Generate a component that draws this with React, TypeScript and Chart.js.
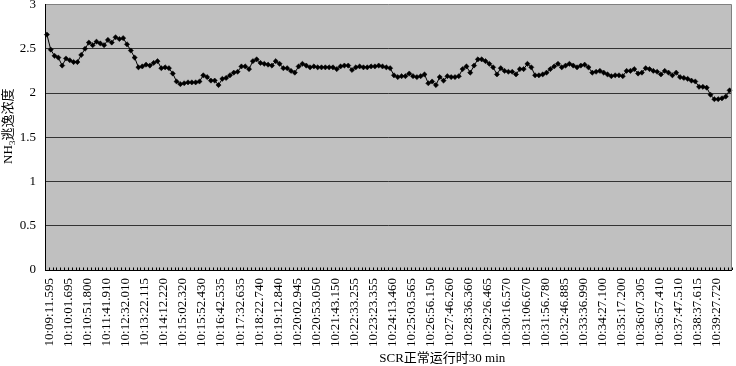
import React, { useEffect, useRef } from 'react';
import { Chart, registerables } from 'chart.js';

Chart.register(...registerables);

const TICK_LABELS = [
  '10:09:11.595', '10:10:01.695', '10:10:51.800', '10:11:41.910', '10:12:32.010', '10:13:22.115',
  '10:14:12.220', '10:15:02.320', '10:15:52.430', '10:16:42.535', '10:17:32.635', '10:18:22.740',
  '10:19:12.840', '10:20:02.945', '10:20:53.050', '10:21:43.150', '10:22:33.255', '10:23:23.355',
  '10:24:13.460', '10:25:03.565', '10:26:56.150', '10:27:46.260', '10:28:36.360', '10:29:26.465',
  '10:30:16.570', '10:31:06.670', '10:31:56.780', '10:32:46.885', '10:33:36.990', '10:34:27.100',
  '10:35:17.200', '10:36:07.305', '10:36:57.410', '10:37:47.510', '10:38:37.615', '10:39:27.720',
];

const NH3_SLIP = [
  2.66, 2.49, 2.42, 2.40, 2.31, 2.39, 2.37, 2.35, 2.35, 2.43, 2.50, 2.57, 2.54, 2.58, 2.56, 2.54, 2.60, 2.57,
  2.63, 2.61, 2.62, 2.55, 2.48, 2.40, 2.29, 2.30, 2.32, 2.31, 2.34, 2.36, 2.28, 2.29, 2.28, 2.22, 2.13, 2.10,
  2.11, 2.12, 2.12, 2.12, 2.13, 2.20, 2.18, 2.14, 2.14, 2.09, 2.16, 2.17, 2.20, 2.23, 2.24, 2.30, 2.30, 2.27,
  2.36, 2.38, 2.34, 2.33, 2.32, 2.31, 2.36, 2.33, 2.28, 2.28, 2.25, 2.23, 2.30, 2.33, 2.31, 2.29, 2.30, 2.29,
  2.29, 2.29, 2.29, 2.29, 2.27, 2.30, 2.31, 2.31, 2.26, 2.29, 2.30, 2.29, 2.29, 2.30, 2.30, 2.31, 2.30, 2.29,
  2.28, 2.20, 2.18, 2.19, 2.19, 2.22, 2.19, 2.18, 2.19, 2.21, 2.11, 2.13, 2.09, 2.18, 2.14, 2.19, 2.18, 2.18,
  2.19, 2.27, 2.30, 2.23, 2.31, 2.38, 2.38, 2.36, 2.33, 2.29, 2.21, 2.28, 2.25, 2.24, 2.24, 2.21, 2.27, 2.27,
  2.33, 2.29, 2.20, 2.20, 2.21, 2.23, 2.27, 2.30, 2.33, 2.29, 2.31, 2.33, 2.31, 2.29, 2.31, 2.32, 2.29, 2.23,
  2.24, 2.25, 2.23, 2.21, 2.19, 2.20, 2.20, 2.19, 2.25, 2.25, 2.27, 2.22, 2.23, 2.28, 2.27, 2.25, 2.24, 2.21,
  2.25, 2.23, 2.20, 2.23, 2.18, 2.17, 2.16, 2.14, 2.13, 2.07, 2.07, 2.06, 1.98, 1.93, 1.93, 1.94, 1.96, 2.03,
];

const LABEL_EVERY = 5;
const Y_MIN = 0;
const Y_MAX = 3;
const Y_STEP = 0.5;

const Y_TITLE_MAIN = 'NH';
const Y_TITLE_SUB = '3';
const Y_TITLE_REST = '逃逸浓度';
const X_TITLE = 'SCR正常运行时30 min';

const SERIF = "'Liberation Serif', 'Times New Roman', serif";
const TITLE_FONT = "'Liberation Serif', 'Noto Sans CJK SC', serif";

const CATEGORIES = NH3_SLIP.map((_, i) =>
  i % LABEL_EVERY === 0 && TICK_LABELS[i / LABEL_EVERY] !== undefined ? TICK_LABELS[i / LABEL_EVERY] : ''
);

const decorPlugin = {
  id: 'decor',
  beforeDraw(chart: any) {
    const { ctx, chartArea: a, width, height } = chart;
    ctx.save();
    ctx.fillStyle = '#ffffff';
    ctx.fillRect(0, 0, width, height);
    ctx.fillStyle = '#c0c0c0';
    ctx.fillRect(a.left, a.top, a.right - a.left, a.bottom - a.top);
    ctx.restore();
  },
  afterDraw(chart: any) {
    const { ctx, chartArea: a } = chart;
    const xs = chart.scales.x;
    ctx.save();
    // right border of plot area
    ctx.strokeStyle = '#808080';
    ctx.lineWidth = 1;
    ctx.beginPath();
    ctx.moveTo(Math.round(a.right) - 0.5, a.top);
    ctx.lineTo(Math.round(a.right) - 0.5, a.bottom);
    ctx.stroke();
    // inside minor ticks at category boundaries
    const half = (xs.getPixelForValue(1) - xs.getPixelForValue(0)) / 2;
    ctx.strokeStyle = '#000000';
    ctx.beginPath();
    for (let i = 0; i <= NH3_SLIP.length; i++) {
      const x = Math.round(xs.getPixelForValue(i) - half) + 0.5;
      ctx.moveTo(x, a.bottom - 2.5);
      ctx.lineTo(x, a.bottom);
    }
    ctx.stroke();

    // y title with subscript
    ctx.fillStyle = '#000';
    ctx.textBaseline = 'alphabetic';
    ctx.textAlign = 'left';
    const mainFont = `13px ${TITLE_FONT}`;
    const subFont = `9px ${TITLE_FONT}`;
    ctx.font = mainFont;
    const w1 = ctx.measureText(Y_TITLE_MAIN).width;
    const w3 = ctx.measureText(Y_TITLE_REST).width;
    ctx.font = subFont;
    const w2 = ctx.measureText(Y_TITLE_SUB).width;
    const total = w1 + w2 + w3;
    ctx.translate(11.5, (a.top + a.bottom) / 2 - 11);
    ctx.rotate(-Math.PI / 2);
    let x0 = -total / 2;
    ctx.font = mainFont;
    ctx.fillText(Y_TITLE_MAIN, x0, 0);
    x0 += w1;
    ctx.font = subFont;
    ctx.fillText(Y_TITLE_SUB, x0, 3);
    x0 += w2;
    ctx.font = mainFont;
    ctx.fillText(Y_TITLE_REST, x0, 0);
    ctx.restore();

    // x title
    ctx.save();
    ctx.fillStyle = '#000';
    ctx.font = `13px ${TITLE_FONT}`;
    ctx.textAlign = 'center';
    ctx.textBaseline = 'alphabetic';
    ctx.fillText(X_TITLE, (a.left + a.right) / 2 + 54, 362);
    ctx.restore();
  },
};

export default function App() {
  const ref = useRef<HTMLCanvasElement | null>(null);

  useEffect(() => {
    document.body.style.margin = '0';
    const canvas = ref.current;
    if (!canvas) return;
    const chart = new Chart(canvas, {
      type: 'line',
      data: {
        labels: CATEGORIES,
        datasets: [
          {
            data: NH3_SLIP,
            borderColor: '#000000',
            borderWidth: 1,
            backgroundColor: '#000000',
            pointStyle: 'rectRot',
            pointRadius: 2.6,
            pointBorderWidth: 0.5,
            pointBorderColor: '#000000',
            pointBackgroundColor: '#000000',
            tension: 0,
            fill: false,
          },
        ],
      },
      options: {
        animation: false,
        responsive: false,
        devicePixelRatio: 1,
        layout: { padding: { top: 4, right: 1, left: 0, bottom: 0 } },
        plugins: {
          legend: { display: false },
          tooltip: { enabled: false },
          title: { display: false },
        },
        scales: {
          x: {
            type: 'category',
            offset: true,
            grid: { display: false, drawTicks: false },
            border: { display: true, color: '#000000', width: 1 },
            ticks: {
              autoSkip: false,
              minRotation: 90,
              maxRotation: 90,
              padding: 8,
              labelOffset: 2.5,
              color: '#000000',
              font: { family: SERIF, size: 13 },
            },
            afterFit(scale: any) {
              scale.height = 96;
              scale.paddingLeft = 0;
              scale.paddingRight = 0;
            },
          },
          y: {
            min: Y_MIN,
            max: Y_MAX,
            ticks: {
              stepSize: Y_STEP,
              padding: 9,
              color: '#000000',
              font: { family: SERIF, size: 13 },
              callback: (v: any) => String(v),
            },
            grid: {
              drawTicks: false,
              color: (c: any) => (c.tick && c.tick.value === Y_MAX ? '#808080' : '#333333'),
              lineWidth: 1,
            },
            border: { display: true, color: '#000000', width: 1 },
            afterFit(scale: any) {
              scale.width = 45;
              scale.paddingTop = 0;
              scale.paddingBottom = 0;
            },
          },
        },
      },
      plugins: [decorPlugin],
    });
    return () => chart.destroy();
  }, []);

  return (
    <div style={{ width: 736, height: 366 }}>
      <canvas ref={ref} width={736} height={366} style={{ display: 'block', width: 736, height: 366 }} />
    </div>
  );
}
